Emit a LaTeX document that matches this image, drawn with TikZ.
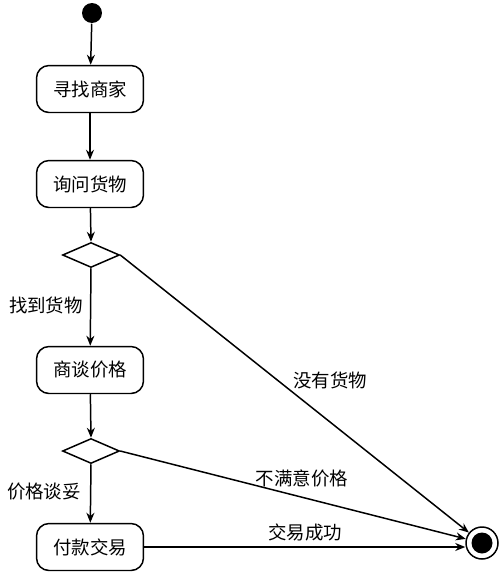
\documentclass[tikz,border=0pt]{standalone}
\usepackage{fontspec}
\newfontfamily\cjk{Noto Sans CJK SC}
\usetikzlibrary{shapes.geometric,arrows.meta}
\begin{document}
\begin{tikzpicture}[x=0.02cm,y=-0.02cm,
  line width=0.85pt,
  every node/.style={font=\cjk\fontsize{10.5}{12}\selectfont},
  act/.style={draw,rounded corners=0.25cm,minimum width=2.14cm,minimum height=0.94cm,inner sep=0pt},
  dec/.style={draw,diamond,minimum width=1.14cm,minimum height=0.5cm,inner sep=0pt,aspect=2.2},
  arr/.style={-{Stealth[length=0.2cm,width=0.16cm]}},
  lbl/.style={inner sep=1pt}]
\useasboundingbox (0,0) rectangle (500,575);
\node[circle,fill=black,minimum size=0.4cm,inner sep=0pt] (start) at (92,13) {};
\node[act] (a1) at (90,89) {寻找商家};
\node[act] (a2) at (90,184) {询问货物};
\node[dec] (d1) at (91,255) {};
\node[act] (a3) at (90,370) {商谈价格};
\node[dec] (d2) at (91,451) {};
\node[act] (a4) at (90,547) {付款交易};
\node[circle,draw,minimum size=0.64cm,inner sep=0pt] (end) at (482,543) {};
\node[circle,fill=black,minimum size=0.42cm,inner sep=0pt] at (end) {};
\draw[arr] (start) -- (a1);
\draw[arr] (a1) -- (a2);
\draw[arr] (a2) -- (d1.north);
\draw[arr] (d1.south) -- (a3);
\draw[arr] (a3) -- (d2.north);
\draw[arr] (d2.south) -- (a4);
\draw[arr] (d1.east) -- (end);
\draw[arr] (d2.east) -- (end);
\draw[arr] (a4.east) -- (end.west |- a4.east);
\node[lbl] (l1) at (46,305) {找到货物};
\node[lbl] (l2) at (44,492) {价格谈妥};
\node[lbl] (l3) at (330,380) {没有货物};
\node[lbl] (l4) at (302,478) {不满意价格};
\node[lbl] (l5) at (305,532) {交易成功};
\end{tikzpicture}
\end{document}
